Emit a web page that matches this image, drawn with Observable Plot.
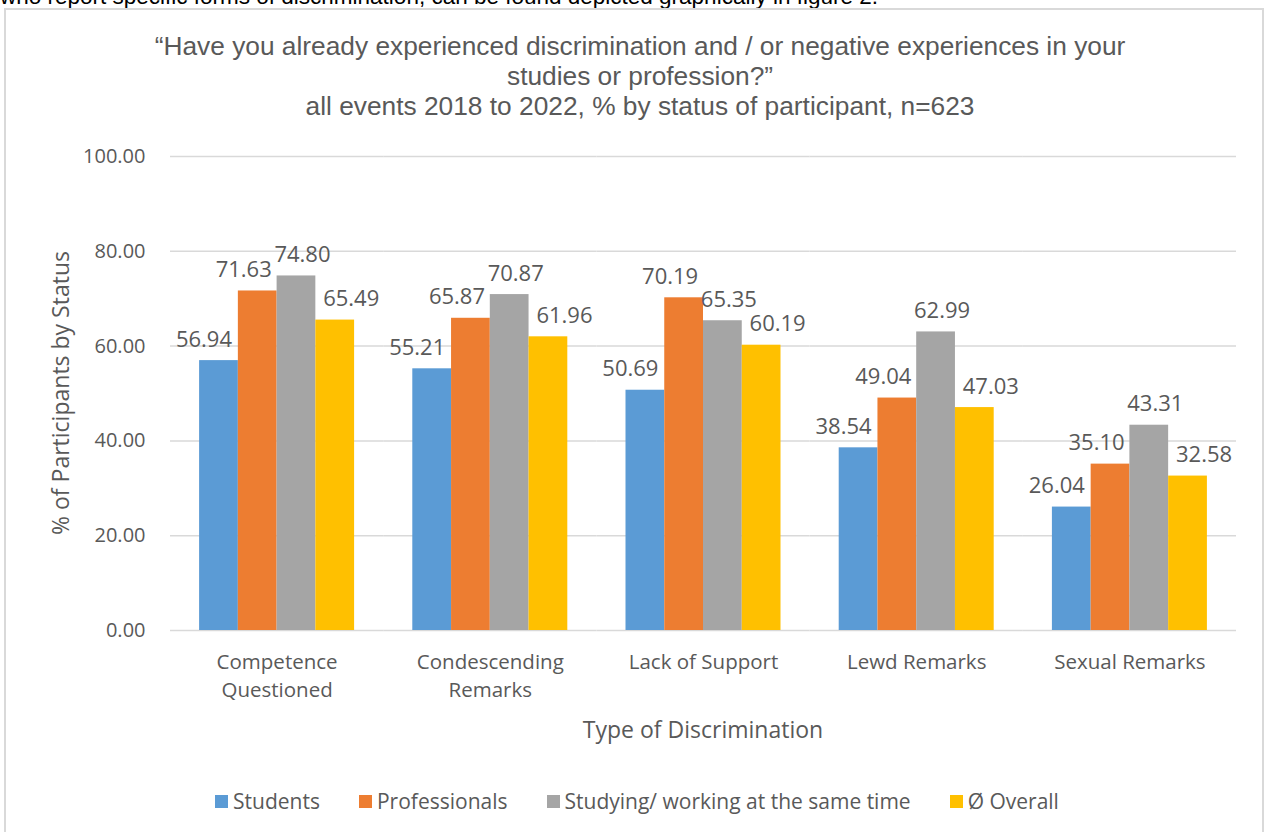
<!DOCTYPE html>
<html>
<head>
<meta charset="utf-8">
<script src="https://cdn.jsdelivr.net/npm/d3@7"></script>
<script src="https://cdn.jsdelivr.net/npm/@observablehq/plot@0.6"></script>
<style>
  html, body { margin: 0; padding: 0; background: #fff; width: 1264px; height: 832px; overflow: hidden; }
  #page { position: relative; width: 1264px; height: 832px; }
  #cut { position: absolute; left: 0; top: -15px; font: 22.5px "Liberation Sans", Arial, sans-serif; color: #000; white-space: nowrap; line-height: 23px; }
  #frame { position: absolute; left: 4px; top: 8px; width: 1256px; height: 840px; border: 2px solid #d9d9d9; background: #fff; }
  #title { position: absolute; left: 0; width: 1280px; top: 31px; text-align: center; font: 26.3px "Liberation Sans", Arial, sans-serif; color: #595959; line-height: 30px; }
  #chart { position: absolute; left: 0; top: 0; }
  #ylabel { position: absolute; left: 60px; top: 393px; transform: translate(-50%, -50%) rotate(-90deg); font: 23px "Open Sans", sans-serif; color: #595959; white-space: nowrap; }
  #xlabel { position: absolute; left: 0; width: 1406px; top: 713px; text-align: center; font: 23px "Open Sans", sans-serif; color: #595959; }
  #legend { position: absolute; left: 0; width: 1274px; top: 787px; display: flex; justify-content: center; gap: 39px; font: 21px "Open Sans", sans-serif; color: #595959; }
  .item { display: flex; align-items: center; }
  .sw { width: 13px; height: 13px; margin-right: 5px; display: inline-block; }
</style>
</head>
<body>
<div id="page">
  <div id="cut">who report specific forms of discrimination, can be found depicted graphically in figure 2.</div>
  <div id="frame"></div>
  <div id="title">“Have you already experienced discrimination and / or negative experiences in your<br>studies or profession?”<br>all events 2018 to 2022, % by status of participant, n=623</div>
  <div id="chart"></div>
  <div id="ylabel">% of Participants by Status</div>
  <div id="xlabel">Type of Discrimination</div>
  <div id="legend"></div>
</div>
<script>
// ---- data ----
const categories = ["Competence Questioned", "Condescending Remarks", "Lack of Support", "Lewd Remarks", "Sexual Remarks"];
const categoryLabels = ["Competence\nQuestioned", "Condescending\nRemarks", "Lack of Support", "Lewd Remarks", "Sexual Remarks"];
const series = ["Students", "Professionals", "Studying/ working at the same time", "Ø Overall"];
const students = [56.94, 55.21, 50.69, 38.54, 26.04];
const professionals = [71.63, 65.87, 70.19, 49.04, 35.10];
const studyingWorking = [74.80, 70.87, 65.35, 62.99, 43.31];
const overall = [65.49, 61.96, 60.19, 47.03, 32.58];
const yTicks = [0, 20, 40, 60, 80, 100];
const colors = ["#5b9bd5", "#ed7d31", "#a5a5a5", "#ffc000"];

// ---- layout & styles ----
const W = 1264, marginLeft = 170, marginRight = 28;
const padInner = 0.273, padOuter = padInner / 2;
const step = (W - marginLeft - marginRight) / categories.length;
const halfGap = step * padOuter; // extends each facet's gridline to meet its neighbour
const labelShift = [-15, -14, 6, 16];
const textColor = "#595959";

const seriesValues = [students, professionals, studyingWorking, overall];
const data = [];
categories.forEach((c, ci) => {
  series.forEach((s, si) => {
    data.push({category: c, series: s, value: seriesValues[si][ci]});
  });
});

const labelMarks = series.map((s, si) =>
  Plot.text(data.filter(d => d.series === s), {
    fx: "category", x: "series", y: "value",
    text: d => d.value.toFixed(2),
    dy: -21, dx: labelShift[si], lineAnchor: "middle",
    fontSize: 22, fill: textColor, fontFamily: "Open Sans"
  })
);

const chart = Plot.plot({
  width: W,
  height: 760,
  marginLeft, marginRight,
  marginTop: 156,
  marginBottom: 130,
  style: {background: "transparent", fontFamily: "Open Sans"},
  fx: {domain: categories, paddingInner: padInner, paddingOuter: padOuter, round: false, label: null},
  x: {domain: series, padding: 0, round: false, axis: null},
  y: {domain: [0, 100], label: null},
  color: {domain: series, range: colors},
  marks: [
    Plot.ruleY(data.filter(d => d.series === series[0]).flatMap(d => yTicks.map(t => ({category: d.category, tick: t}))),
      {fx: "category", y: "tick", stroke: "#d9d9d9", strokeWidth: 1.5, insetLeft: -halfGap, insetRight: -halfGap}),
    Plot.axisY(yTicks, {tickSize: 0, tickPadding: 25 + halfGap, tickFormat: d => d.toFixed(2), fontSize: 20, fill: textColor, label: null}),
    Plot.barY(data, {fx: "category", x: "series", y: "value", fill: "series"}),
    ...labelMarks,
    Plot.axisFx({anchor: "bottom", tickSize: 0, tickPadding: 19, fontSize: 20.5, lineHeight: 1.35, fill: textColor, label: null,
      tickFormat: d => categoryLabels[categories.indexOf(d)]})
  ]
});
document.getElementById("chart").appendChild(chart);

const legend = document.getElementById("legend");
series.forEach((s, i) => {
  const item = document.createElement("div");
  item.className = "item";
  const sw = document.createElement("span");
  sw.className = "sw";
  sw.style.background = colors[i];
  const t = document.createElement("span");
  t.textContent = s;
  item.appendChild(sw);
  item.appendChild(t);
  legend.appendChild(item);
});
</script>
</body>
</html>
